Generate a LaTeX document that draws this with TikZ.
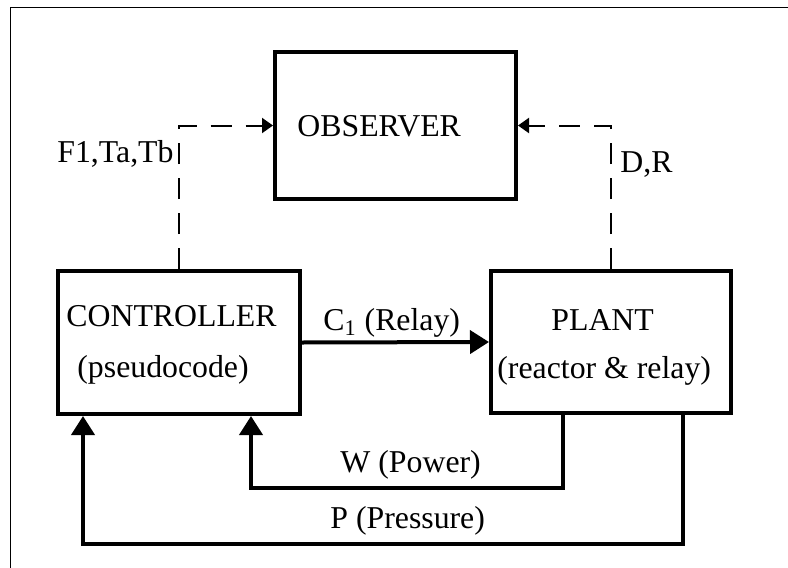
\documentclass[tikz,border=0pt]{standalone}
\usepackage{fontspec}
\setmainfont{Liberation Serif}
\usetikzlibrary{arrows.meta}

\begin{document}
\begin{tikzpicture}[x=0.5pt,y=-0.5pt,line join=miter,
  font=\fontsize{15.9pt}{18pt}\selectfont,
  block/.style={draw,line width=2pt,inner sep=0pt},
  lbl/.style={inner sep=0pt,anchor=base west},
  flow/.style={line width=2pt,-{Triangle[length=9.5pt,width=11.5pt]}},
  sensed/.style={line width=1pt,dash pattern=on 10.5pt off 7pt,-{Triangle[length=5.5pt,width=7.5pt]}}]
  \useasboundingbox (0,0) rectangle (788,568);
  % frame
  \draw[line width=0.5pt] (10,568) -- (10,7) -- (788,7);

  % blocks
  \node[block,minimum width=120.5pt,minimum height=73.5pt] (observer) at (395.5,125.5) {};
  \node[block,minimum width=121pt,minimum height=71.5pt] (controller) at (179,342.5) {};
  \node[block,minimum width=120pt,minimum height=71pt] (plant) at (611,342) {};

  % block texts
  \node[lbl] (observertxt) at (297,136) {OBSERVER};
  \node[lbl] (controllertxt) at (66,326) {CONTROLLER};
  \node[lbl] (pseudotxt) at (77,377) {(pseudocode)};
  \node[lbl] (planttxt) at (551,330) {PLANT};
  \node[lbl] (reactortxt) at (497,378) {(reactor \& relay)};

  % signals to the observer
  \draw[sensed] (controller.north) |- (observer.west);
  \draw[sensed] (plant.north) |- (observer.east);
  \node[lbl] (ftlbl) at (57,162) {F1,Ta,Tb};
  \node[lbl] (drlbl) at (620,172) {D,R};

  % control loop
  \draw[flow] (controller.east) -- (plant.west);
  \node[lbl] (clbl) at (323,330) {C\textsubscript{1} (Relay)};
  \draw[flow] (plant.south) ++(-48,0) -- ++(0,73) -| ([xshift=36pt]controller.south);
  \node[lbl] (wlbl) at (340,472) {W (Power)};
  \draw[flow] (plant.south) ++(72,0) -- ++(0,129) -| ([xshift=-48pt]controller.south);
  \node[lbl] (plbl) at (330,528) {P (Pressure)};
\end{tikzpicture}
\end{document}
